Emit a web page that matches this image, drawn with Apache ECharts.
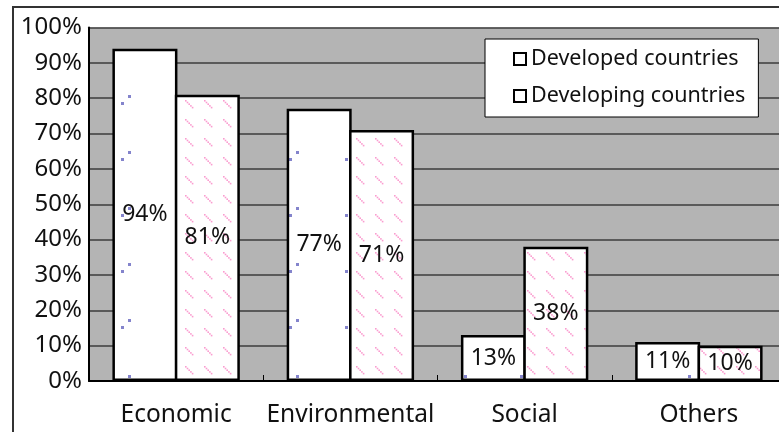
<!DOCTYPE html>
<html>
<head>
<meta charset="utf-8">
<script src="https://cdn.jsdelivr.net/npm/echarts@6/dist/echarts.min.js"></script>
<style>
html,body{margin:0;padding:0;background:#fff;}
#chart{width:779px;height:432px;}
</style>
</head>
<body>
<div id="chart"></div>
<script>
const categories = ['Economic', 'Environmental', 'Social', 'Others'];
const seriesNames = ['Developed countries', 'Developing countries'];
const developed = [94, 77, 13, 11];
const developing = [81, 71, 38, 10];
const yTicks = [0, 10, 20, 30, 40, 50, 60, 70, 80, 90, 100];

function dotPattern() {
  const c = document.createElement('canvas');
  c.width = 56; c.height = 56;
  const g = c.getContext('2d');
  g.fillStyle = '#fff';
  g.fillRect(0, 0, 56, 56);
  g.fillStyle = '#8484cc';
  g.fillRect(9, 46, 3, 3);
  g.fillRect(16, 39, 3, 3);
  return c;
}
function dashPattern() {
  const c = document.createElement('canvas');
  c.width = 19; c.height = 19;
  const g = c.getContext('2d');
  g.fillStyle = '#fff';
  g.fillRect(0, 0, 19, 19);
  g.fillStyle = '#fa9ccf';
  for (const ox of [0, -19]) {
    for (let k = 0; k < 5; k++) {
      g.fillRect(14 + ox + 1.7 * k, 5 + 1.7 * k, 1.6, 1.6);
    }
  }
  return c;
}

const chart = echarts.init(document.getElementById('chart'), null, {renderer: 'canvas'});
const font = 'Noto Sans';
const labelCfg = {
  show: true, position: 'inside', color: '#111', fontFamily: font, fontSize: 23,
  formatter: p => p.value + '%'
};
chart.setOption({
  animation: false,
  backgroundColor: '#fff',
  graphic: [{
    type: 'rect', z: -10, silent: true,
    shape: {x: 13, y: 7, width: 900, height: 600},
    style: {fill: 'none', stroke: '#333', lineWidth: 2}
  }],
  grid: {
    left: 89, top: 27.5, width: 697, bottom: 51,
    show: true, backgroundColor: '#b4b4b4', borderWidth: 0,
    containLabel: false, outerBoundsMode: 'none'
  },
  legend: {
    orient: 'vertical', left: 485, top: 39,
    backgroundColor: '#fff', borderColor: '#000', borderWidth: 1, borderRadius: 0,
    padding: [9, 13, 10, 28],
    itemWidth: 12, itemHeight: 12, itemGap: 15,
    icon: 'rect',
    textStyle: {fontFamily: font, fontSize: 21.5, color: '#111', lineHeight: 22},
    data: seriesNames
  },
  xAxis: {
    type: 'category', data: categories,
    axisLine: {lineStyle: {color: '#000', width: 2}},
    axisTick: {show: true, inside: true, length: 6, lineStyle: {color: '#000', width: 1}},
    axisLabel: {interval: 0, fontFamily: font, fontSize: 24.5, color: '#111', margin: 22}
  },
  yAxis: {
    type: 'value', min: yTicks[0], max: yTicks[yTicks.length - 1], interval: 10,
    axisLine: {show: true, lineStyle: {color: '#000', width: 2}},
    axisTick: {show: false},
    splitLine: {lineStyle: {color: '#3c3c3c', width: 1.5}},
    axisLabel: {fontFamily: font, fontSize: 24, color: '#111', margin: 7, formatter: '{value}%'}
  },
  series: [
    {
      name: seriesNames[0], type: 'bar', data: developed,
      barWidth: 65, barGap: '-4%',
      itemStyle: {color: {image: dotPattern(), repeat: 'repeat'}, borderColor: '#000', borderWidth: 2.5},
      label: labelCfg
    },
    {
      name: seriesNames[1], type: 'bar', data: developing,
      barWidth: 65, barGap: '-4%',
      itemStyle: {color: {image: dashPattern(), repeat: 'repeat'}, borderColor: '#000', borderWidth: 2.5},
      label: labelCfg
    }
  ]
});
</script>
</body>
</html>
